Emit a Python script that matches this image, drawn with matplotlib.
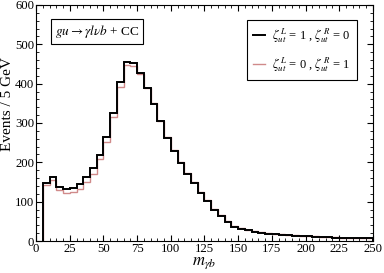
import matplotlib
matplotlib.use('Agg')
import matplotlib.pyplot as plt
import numpy as np
from matplotlib.ticker import MultipleLocator
from matplotlib.lines import Line2D

# bin edges 5..250 GeV in 5 GeV steps
edges = np.arange(5, 255, 5)

# zeta^L = 1, zeta^R = 0
left_handed = [148, 163, 137, 132, 134, 146, 163, 186, 219, 264,
               326, 403, 456, 453, 426, 388, 349, 304, 263, 230,
               199, 171, 148, 123, 102, 80, 63, 49, 36, 30,
               28, 24, 21, 19, 18, 16, 15, 14, 13, 12,
               11, 10, 10, 9, 9, 8, 8, 7, 7]

# zeta^L = 0, zeta^R = 1
right_handed = [143, 154, 129, 123, 125, 133, 149, 171, 208, 251,
                316, 391, 448, 446, 425, 389, 350, 306, 265, 232,
                201, 173, 150, 125, 104, 82, 65, 51, 38, 32,
                29, 25, 22, 20, 19, 17, 16, 15, 14, 13,
                12, 11, 10, 10, 9, 9, 8, 8, 7]

labels = [r'$\zeta^{\,L}_{ut}$ = 1 , $\zeta^{\,R}_{ut}$ = 0',
          r'$\zeta^{\,L}_{ut}$ = 0 , $\zeta^{\,R}_{ut}$ = 1']
colors = ['black', '#d08a8a']

plt.rcParams['font.family'] = ['Liberation Serif', 'DejaVu Serif']
plt.rcParams['mathtext.fontset'] = 'stix'

fig = plt.figure(figsize=(3.84, 2.73), dpi=100)
ax = fig.add_axes([0.094, 0.117, 0.877, 0.865])

ax.stairs(right_handed, edges, baseline=0, color=colors[1], lw=1.0)
ax.stairs(left_handed, edges, baseline=0, color=colors[0], lw=1.4)

ax.set_xlim(0, 250)
ax.set_ylim(0, 600)
ax.xaxis.set_major_locator(MultipleLocator(25))
ax.xaxis.set_minor_locator(MultipleLocator(5))
ax.yaxis.set_major_locator(MultipleLocator(100))
ax.yaxis.set_minor_locator(MultipleLocator(20))
ax.tick_params(which='both', direction='in', top=True, right=True, labelsize=9.2)
ax.tick_params(which='major', length=4, pad=1.5)
ax.tick_params(which='minor', length=2)
for s in ax.spines.values():
    s.set_linewidth(0.8)

ax.set_ylabel('Events / 5 GeV', fontsize=11, va='center')
ax.yaxis.set_label_coords(-0.085, 0.58)
ax.set_xlabel(r'$m_{\gamma b}$', fontsize=12, va='center')
ax.xaxis.set_label_coords(0.5, -0.095)

h = [Line2D([], [], color=colors[0], lw=1.4), Line2D([], [], color=colors[1], lw=1.0)]
leg = ax.legend(h, labels, loc='upper right', bbox_to_anchor=(0.952, 0.936),
                borderaxespad=0, fontsize=9, frameon=True, fancybox=False,
                edgecolor='black', framealpha=1, handlelength=0.9,
                handletextpad=0.6, labelspacing=0.8, borderpad=0.5)
leg.get_frame().set_linewidth(0.8)

ax.text(0.181, 0.886, r'$gu \rightarrow \gamma l \nu b$ + CC', transform=ax.transAxes,
        ha='center', va='center', fontsize=9.5,
        bbox=dict(boxstyle='square,pad=0.3', facecolor='white', edgecolor='black', lw=0.8))

fig.savefig('out.png', dpi=100)
